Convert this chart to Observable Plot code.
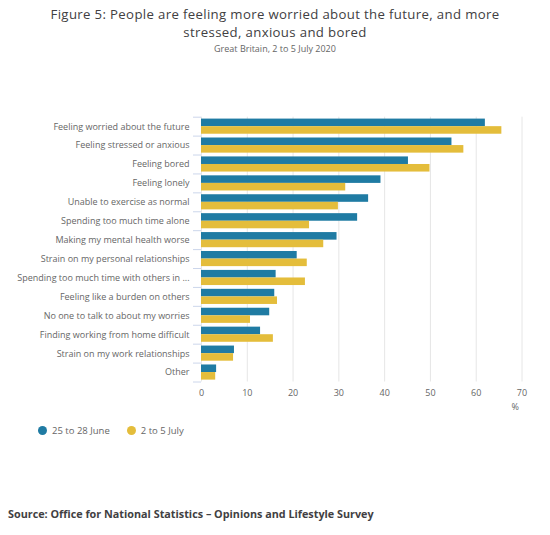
<!DOCTYPE html>
<html>
<head>
<meta charset="utf-8">
<script src="https://cdn.jsdelivr.net/npm/d3@7"></script>
<script src="https://cdn.jsdelivr.net/npm/@observablehq/plot@0.6"></script>
<style>
  html, body { margin: 0; padding: 0; background: #fff; }
  #wrap { position: relative; width: 550px; height: 535px; font-family: "Open Sans", sans-serif; }
  .title { position: absolute; left: 0; width: 550px; text-align: center; font-size: 13.2px; letter-spacing: 0.35px; line-height: 18px; height: 18px; color: #414042; white-space: nowrap; }
  #t1 { top: 5px; }
  #t2 { top: 23px; }
  #subtitle { position: absolute; top: 42px; left: 0; width: 550px; text-align: center; font-size: 9px; line-height: 13px; color: #666; }
  #chart { position: absolute; top: 60px; left: 0; }
  #legend { position: absolute; top: 420px; left: 38px; height: 20px; display: flex; align-items: center; font-size: 9.5px; color: #666; }
  .item { display: flex; align-items: center; margin-right: 17px; }
  .sw { width: 9px; height: 9px; border-radius: 50%; margin-right: 5px; }
  #source { position: absolute; top: 506px; left: 8px; font-size: 10.8px; font-weight: bold; color: #414042; line-height: 16px; }
</style>
</head>
<body>
<div id="wrap">
  <div class="title" id="t1">Figure 5: People are feeling more worried about the future, and more</div>
  <div class="title" id="t2">stressed, anxious and bored</div>
  <div id="subtitle">Great Britain, 2 to 5 July 2020</div>
  <div id="chart"></div>
  <div id="legend"></div>
  <div id="source">Source: Office for National Statistics – Opinions and Lifestyle Survey</div>
</div>
<script>
const categories = [
  "Feeling worried about the future",
  "Feeling stressed or anxious",
  "Feeling bored",
  "Feeling lonely",
  "Unable to exercise as normal",
  "Spending too much time alone",
  "Making my mental health worse",
  "Strain on my personal relationships",
  "Spending too much time with others in ...",
  "Feeling like a burden on others",
  "No one to talk to about my worries",
  "Finding working from home difficult",
  "Strain on my work relationships",
  "Other"
];
const june = [62, 54.7, 45.2, 39.2, 36.5, 34.1, 29.6, 20.9, 16.3, 16.0, 14.9, 12.9, 7.2, 3.3];
const july = [65.6, 57.3, 49.9, 31.5, 29.9, 23.6, 26.7, 23.1, 22.7, 16.6, 10.7, 15.7, 7.0, 3.1];
const seriesNames = ["25 to 28 June", "2 to 5 July"];
const seriesColors = ["#1f7ba3", "#e4bd3b"];
const xTicks = [0, 10, 20, 30, 40, 50, 60, 70];

const rows = categories.map((c, i) => ({cat: c, june: june[i], july: july[i]}));

const W = 550, H = 360, mT = 56.7, mB = 38.5, mL = 201, mR = 28.5;
const step = (H - mT - mB) / categories.length;
const bw = step * 0.8;

const chart = Plot.plot({
  width: W,
  height: H,
  marginTop: mT,
  marginBottom: mB,
  marginLeft: mL,
  marginRight: mR,
  style: {fontFamily: "Open Sans, sans-serif", fontSize: "9px", color: "#666", background: "transparent"},
  x: {domain: [0, 70], ticks: xTicks, tickSize: 0, tickPadding: 8, label: null},
  y: {domain: categories, paddingInner: 0.2, paddingOuter: 0.1, round: false, tickSize: 0, tickPadding: 12, label: null},
  marks: [
    Plot.ruleX(xTicks, {stroke: "#e6e6e6", strokeWidth: 1}),
    Plot.barX(rows, {x: "june", y: "cat", fill: seriesColors[0], insetBottom: bw / 2}),
    Plot.barX(rows, {x: "july", y: "cat", fill: seriesColors[1], insetTop: bw / 2}),
    Plot.ruleY(categories, {y: d => d, x1: -1.75, x2: 0, dy: -step / 2, stroke: "#ccd6eb", clip: false}),
    Plot.ruleY(categories.slice(-1), {y: d => d, x1: -1.75, x2: 0, dy: step / 2, stroke: "#ccd6eb", clip: false}),
    Plot.text(["%"], {frameAnchor: "bottom-right", dx: -3, dy: 27.5, fill: "#666", fontSize: 9})
  ]
});
document.getElementById("chart").appendChild(chart);

const legend = document.getElementById("legend");
seriesNames.forEach((n, i) => {
  const it = document.createElement("div");
  it.className = "item";
  it.innerHTML = `<span class="sw" style="background:${seriesColors[i]}"></span><span>${n}</span>`;
  legend.appendChild(it);
});
</script>
</body>
</html>
